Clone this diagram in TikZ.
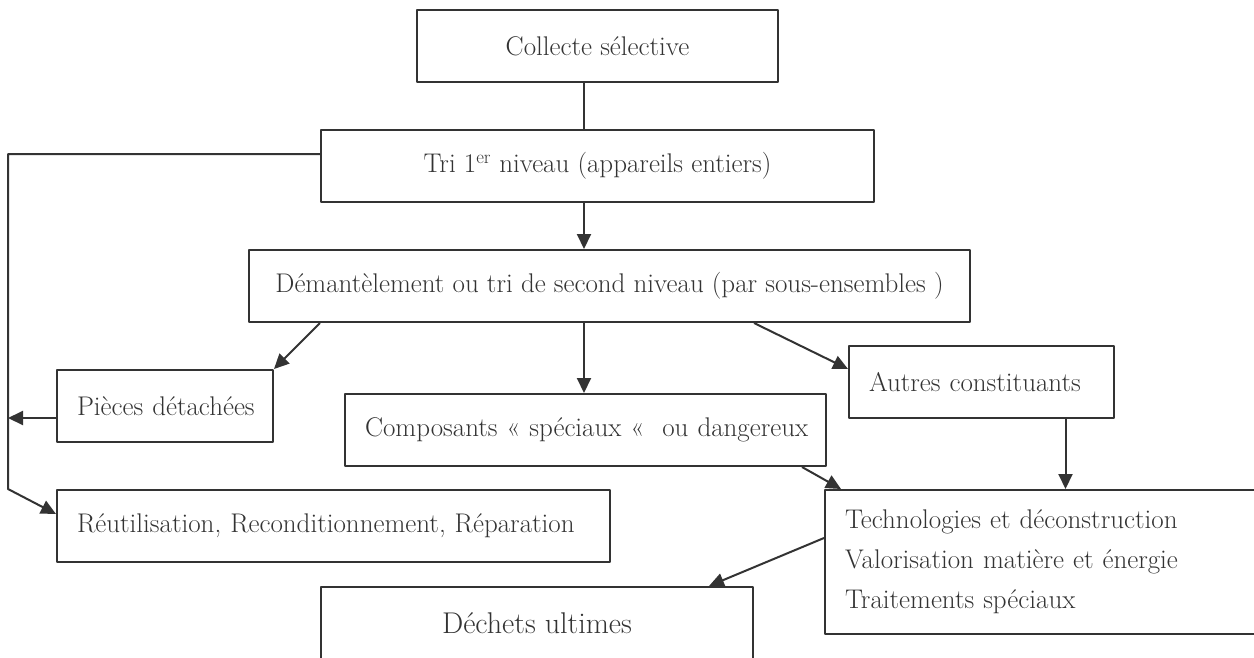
\documentclass[tikz,border=0pt]{standalone}
\usepackage{fontspec}
\usetikzlibrary{arrows.meta}
\tikzset{
	box/.style={draw, minimum height=72pt, inner sep=0pt},
	boxl/.style={box, inner xsep=20pt, text width=#1, align=left},
}
\begin{document}
\begin{tikzpicture}[x=1pt, y=-1pt, font=\fontsize{27}{32}\selectfont, color=black!80, line width=2pt, line join=round, >={Triangle[length=15pt,width=14pt]}]
		\useasboundingbox (0,0) rectangle (1254,657);
		\coordinate (rail) at (8,0);
		\coordinate (spine) at (584,0);
		\node[box, minimum width=361pt, anchor=north west] (collecte) at (416,9) {Collecte sélective};
		\node[box, minimum width=553pt, anchor=north west] (tri) at (320,129) {Tri 1\textsuperscript{er} niveau (appareils entiers)};
		\node[box, minimum width=721pt, anchor=north west] (dem) at (248,249) {Démantèlement ou tri de second niveau (par sous-ensembles )};
		\node[boxl=176pt, anchor=north west] (pieces) at (56,369) {\mbox{Pièces détachées}};
		\node[boxl=441pt, anchor=north west] (comp) at (344,393) {\mbox{Composants « spéciaux «~ ou dangereux}};
		\node[boxl=513pt, anchor=north west] (reut) at (56,489) {Réutilisation, Reconditionnement, Réparation};
		\node[boxl=225pt, anchor=north west] (autres) at (848,345) {Autres constituants};
		\node[boxl=420pt, minimum height=144pt, anchor=north west, font=\fontsize{27}{40}\selectfont] (tech) at (824,489) {\raisebox{-3pt}{Technologies et déconstruction}\\\raisebox{-3pt}{Valorisation matière et énergie}\\\raisebox{-3pt}{Traitements spéciaux}};
		\node[box, minimum width=432pt, anchor=north west, font=\fontsize{30}{36}\selectfont] (dechets) at (320,586) {Déchets ultimes};
		%\draw[color=gray!50,dashed] (0,0) grid[step=50] (1254,657);
		\draw (collecte.south -| spine) -- (tri.north -| spine);
		\draw[->] (tri.south -| spine) -- (dem.north -| spine);
		\draw[->] (dem.south -| spine) -- (comp.north -| spine);
		\draw[->] ([yshift=12pt]tri.west) -| (rail |- reut.north) -- ([yshift=12pt]reut.west);
		\coordinate (pd) at ([yshift=-12pt]pieces.west);
		\draw[->] (pd) -- (rail |- pd);
		\draw[->] ([xshift=72pt]dem.south west) -- (pieces.north east);
		\draw[->] ([xshift=-217pt]dem.south east) -- ([yshift=13pt]autres.west);
		\coordinate (ad) at ([xshift=84pt]autres.south);
		\draw[->] (ad) -- (tech.north -| ad);
		\draw[->] ([xshift=-25pt]comp.south east) -- ([xshift=17pt]tech.north west);
		\draw[->] ([yshift=24pt]tech.west) -- ([xshift=-45pt]dechets.north east);
\end{tikzpicture}
\end{document}
